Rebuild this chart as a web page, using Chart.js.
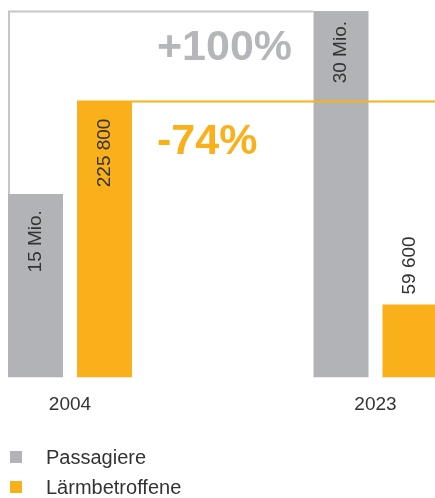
<!DOCTYPE html>
<html>
<head>
<meta charset="utf-8">
<script src="https://cdn.jsdelivr.net/npm/chart.js@4/dist/chart.umd.min.js"></script>
<style>
    html, body { margin: 0; padding: 0; background: #ffffff; }
    #wrap { position: relative; width: 435px; height: 498px; overflow: hidden; }
    #canvasBox { position: absolute; left: 0; top: 0; width: 435px; height: 498px; }
    #legend { position: absolute; left: 10px; top: 442px; font: 20px "Liberation Sans", Arial, sans-serif; color: #333333; }
    .row { display: flex; align-items: center; height: 30px; }
    .box { display: inline-block; width: 12px; height: 12px; margin-right: 24px; }
</style>
</head>
<body>
<div id="wrap">
    <div id="canvasBox"><canvas id="chart"></canvas></div>
    <div id="legend"></div>
</div>
<script>
// ## data ##
const years = ['2004', '2023'];
const passengers = [15, 30];              // Mio.
const noiseAffected = [225800, 59600];    // persons
const passengerLabels = ['15 Mio.', '30 Mio.'];
const noiseLabels = ['225 800', '59 600'];
const changeLabels = ['+100%', '-74%'];
const seriesNames = ['Passagiere', 'Lärmbetroffene'];

// ## styles ##
const grey = '#b2b3b7';
const orange = '#f9b01b';
const textColor = '#333333';
const fontFamily = '"Liberation Sans", Arial, sans-serif';
const innerPad = [[16, 10], [17, 17]]; // distance of the rotated label from the bar top

// draws the bracket lines, the value labels and the big percentages
const annotate = {
    id: 'annotate',
    afterDatasetsDraw(chart) {
        const ctx = chart.ctx;
        const greyBars = chart.getDatasetMeta(0).data;
        const orangeBars = chart.getDatasetMeta(1).data;

        ctx.save();
        // grey bracket from 2004 passengers up to the 2023 level
        ctx.strokeStyle = '#c5c6c9';
        ctx.lineWidth = 2;
        ctx.beginPath();
        var gx = greyBars[0].x - greyBars[0].width / 2 + 1;
        ctx.moveTo(gx, greyBars[0].y);
        ctx.lineTo(gx, greyBars[1].y + 0.5);
        ctx.lineTo(greyBars[1].x - greyBars[1].width / 2, greyBars[1].y + 0.5);
        ctx.stroke();

        // orange line at the 2004 noise level
        ctx.strokeStyle = orange;
        ctx.beginPath();
        ctx.moveTo(orangeBars[0].x - orangeBars[0].width / 2, orangeBars[0].y);
        ctx.lineTo(chart.width, orangeBars[0].y);
        ctx.stroke();

        // rotated value labels
        ctx.font = '19px ' + fontFamily;
        ctx.fillStyle = textColor;
        chart.data.datasets.forEach((ds, di) => {
            chart.getDatasetMeta(di).data.forEach((bar, i) => {
                const text = ds.valueLabels[i];
                const w = ctx.measureText(text).width;
                const barH = bar.base - bar.y;
                ctx.save();
                ctx.translate(bar.x, bar.y);
                ctx.rotate(-Math.PI / 2);
                ctx.textBaseline = 'middle';
                if (barH > w + 30) {
                    ctx.textAlign = 'right';
                    ctx.fillText(text, -innerPad[di][i], 0);
                } else {
                    ctx.textAlign = 'left';
                    ctx.fillText(text, 10, 0);
                }
                ctx.restore();
            });
        });

        // big change figures
        ctx.font = 'bold 43px ' + fontFamily;
        ctx.textAlign = 'left';
        ctx.textBaseline = 'alphabetic';
        var tx = orangeBars[0].x + orangeBars[0].width / 2 + 25;
        ctx.fillStyle = '#b5b6ba';
        ctx.fillText(changeLabels[0], tx, greyBars[1].y + 49);
        ctx.fillStyle = orange;
        ctx.fillText(changeLabels[1], tx, orangeBars[0].y + 52);
        ctx.restore();
    }
};

const chart = new Chart(document.getElementById('chart'), {
    type: 'bar',
    data: {
        labels: years,
        datasets: [
            { label: seriesNames[0], data: passengers, backgroundColor: grey, yAxisID: 'y', valueLabels: passengerLabels },
            { label: seriesNames[1], data: noiseAffected, backgroundColor: orange, yAxisID: 'y1', valueLabels: noiseLabels }
        ]
    },
    options: {
        responsive: true,
        maintainAspectRatio: false,
        animation: false,
        datasets: {
            bar: {
                categoryPercentage: 138 / 305.5,
                barPercentage: 55 / 69,
                borderWidth: 0,
                clip: false
            }
        },
        layout: {
            padding: { left: 70, right: 59.5, top: 11, bottom: 66 }
        },
        plugins: {
            legend: { display: false },
            tooltip: { enabled: false }
        },
        scales: {
            x: {
                offset: false,
                grid: { display: false, offset: false, drawTicks: false },
                border: { display: false },
                ticks: {
                    color: textColor,
                    font: { family: fontFamily, size: 19 },
                    padding: 16
                }
            },
            y: { display: false, min: 0, max: 30 },
            y1: { display: false, min: 0, max: 300000 }
        }
    },
    plugins: [annotate]
});

// ## legend, one entry per row ##
document.getElementById('legend').innerHTML = chart.data.datasets.map(ds =>
    '<div class="row"><span class="box" style="background:' + ds.backgroundColor + '"></span>' + ds.label + '</div>'
).join('');
</script>
</body>
</html>
